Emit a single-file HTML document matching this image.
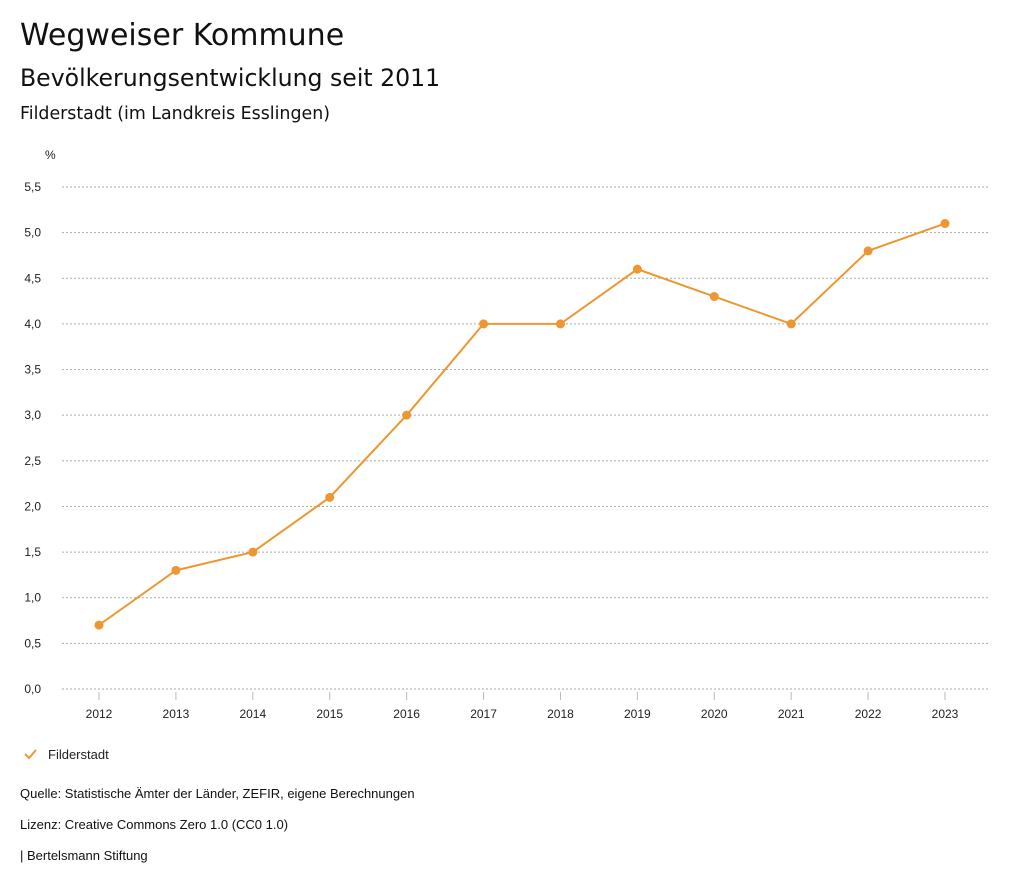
<!DOCTYPE html>
<html><head><meta charset="utf-8"><style>
body{margin:0;background:#fff;font-family:"Liberation Sans",sans-serif;color:#111;}
#wrap{position:relative;width:1024px;height:888px;overflow:hidden}
.t{position:absolute;white-space:nowrap}
.d{font-family:"DejaVu Sans",sans-serif}
</style></head><body><div id="wrap">
<div class="t d" style="left:20px;top:18px;font-size:30px">Wegweiser Kommune</div>
<div class="t d" style="left:20px;top:64px;font-size:23.6px">Bevölkerungsentwicklung seit 2011</div>
<div class="t d" style="left:20px;top:104px;font-size:17.4px">Filderstadt (im Landkreis Esslingen)</div>
<svg id="chart" width="1024" height="888" style="position:absolute;left:0;top:0"></svg>
<div class="t" style="left:20px;top:786px;font-size:13px">Quelle: Statistische Ämter der Länder, ZEFIR, eigene Berechnungen</div>
<div class="t" style="left:20px;top:817px;font-size:13px">Lizenz: Creative Commons Zero 1.0 (CC0 1.0)</div>
<div class="t" style="left:20px;top:848px;font-size:13px">| Bertelsmann Stiftung</div>
</div>
<script>
const years=[2012,2013,2014,2015,2016,2017,2018,2019,2020,2021,2022,2023];
const values=[0.7,1.3,1.5,2.1,3.0,4.0,4.0,4.6,4.3,4.0,4.8,5.1];
const yTicks=[0,0.5,1,1.5,2,2.5,3,3.5,4,4.5,5,5.5];
const NS="http://www.w3.org/2000/svg";
const svg=document.getElementById('chart');
const y=v=>689-v*(502/5.5);
const x=i=>99+i*(846/(years.length-1));
const C='#ee9631';
function el(t,a,p){const e=document.createElementNS(NS,t);for(const k in a)e.setAttribute(k,a[k]);(p||svg).appendChild(e);return e;}
let t=el('text',{x:45,y:159,'font-size':12,fill:'#222'});t.textContent='%';


yTicks.forEach(v=>{
 const g=el('line',{x1:62,x2:990,y1:y(v),y2:y(v),stroke:'#aaa','stroke-dasharray':'2,2','stroke-width':1});
 
 
 const l=el('text',{x:41,y:y(v)+4,'font-size':12,'text-anchor':'end',fill:'#222'});
 l.textContent=v.toFixed(1).replace('.',',');
 
 
});
years.forEach((yr,i)=>{
 const k=el('line',{x1:x(i),x2:x(i),y1:692,y2:700,stroke:'#bbb'});
 
 
 const l=el('text',{x:x(i),y:718,'font-size':12,'text-anchor':'middle',fill:'#222'});
 l.textContent=yr;
 
 
});
const line=el('polyline',{points:values.map((v,i)=>x(i)+','+y(v)).join(' '),fill:'none',stroke:C,'stroke-width':2});


values.forEach((v,i)=>{
 const c=el('circle',{cx:x(i),cy:y(v),r:4.5,fill:C});
 
 
});
const lg=el('g',{});


el('polyline',{points:'25,754 29,758 36,750',fill:'none',stroke:C,'stroke-width':2},lg);
const lt=el('text',{x:48,y:759,'font-size':13,fill:'#222'},lg);lt.textContent='Filderstadt';
</script></body></html>
